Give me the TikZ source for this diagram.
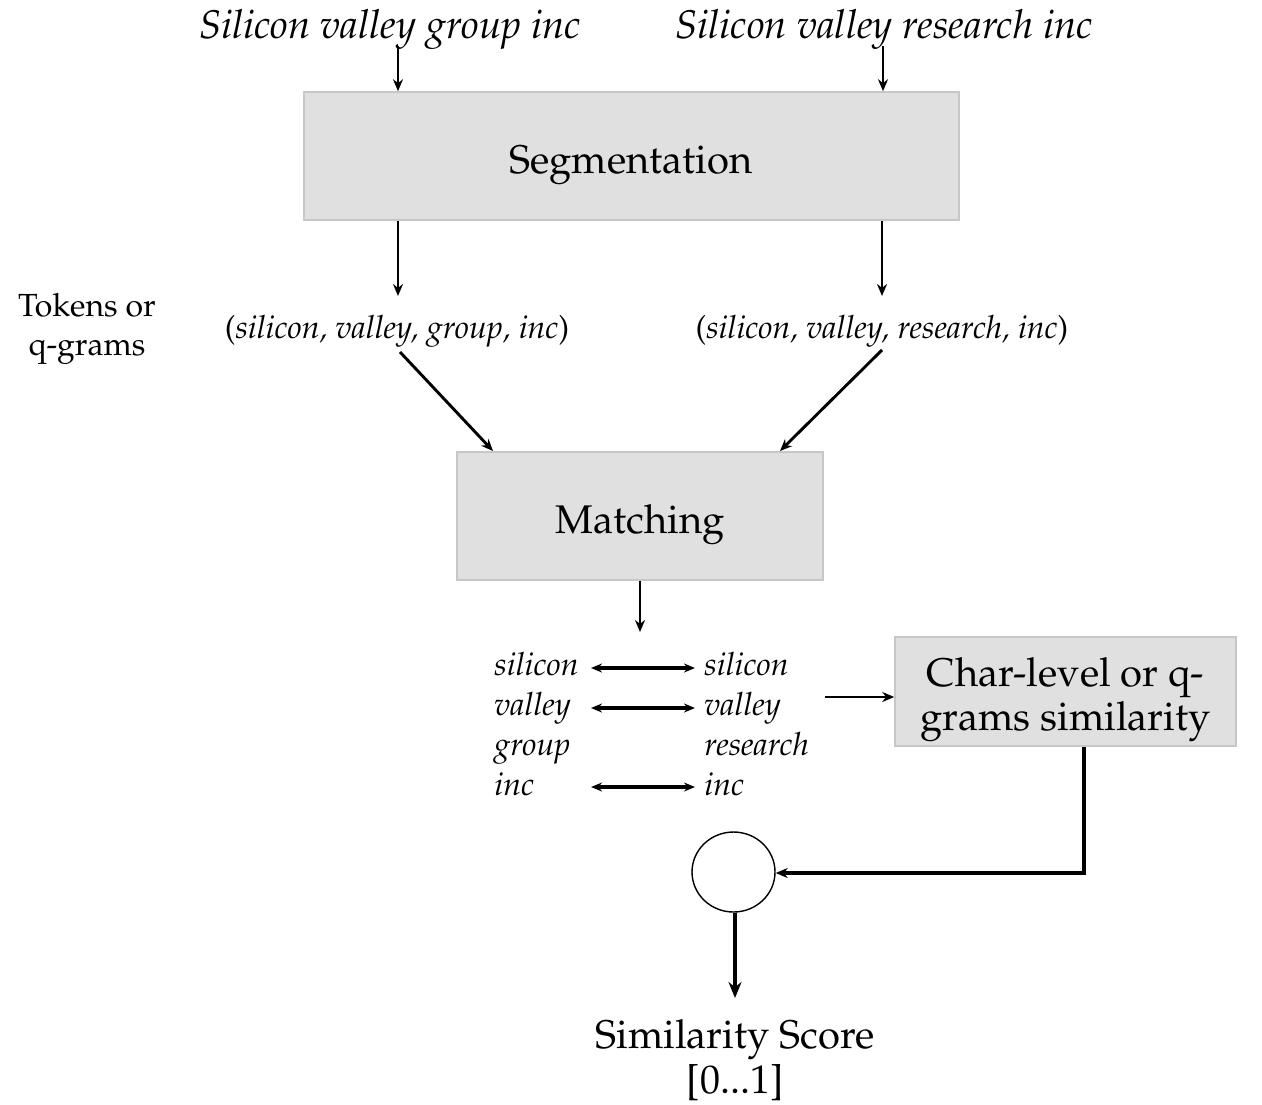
\documentclass[tikz,border=0pt]{standalone}
\usepackage[T1]{fontenc}
\usepackage{mathpazo}
\usetikzlibrary{arrows.meta,shapes.geometric}
\begin{document}
\begin{tikzpicture}[x=0.5pt,y=-0.5pt,
  big/.style={font=\fontsize{20}{21.5}\selectfont, inner sep=0pt, anchor=base},
  bigit/.style={font=\fontsize{20}{21.5}\selectfont\itshape, inner sep=0pt, anchor=base},
  small/.style={font=\fontsize{16}{19.5}\selectfont, inner sep=0pt, anchor=base},
  word/.style={font=\fontsize{16}{19.5}\selectfont\itshape, inner sep=0pt, anchor=base west},
  box/.style={draw=black!22, fill=black!12, line width=0.8pt, inner sep=0pt},
  arr/.style={-{Stealth[length=6pt,width=5pt]}, line width=1.45pt},
  darr/.style={{Stealth[length=5.5pt,width=4.5pt]}-{Stealth[length=5.5pt,width=4.5pt]}, line width=1.6pt},
  thick arr/.style={-{Stealth[length=8pt,width=6.5pt]}, line width=2.1pt}]
\useasboundingbox (0,0) rectangle (1262,1104);
% top inputs
\node[bigit] (in1) at (390,38) {Silicon valley group inc};
\node[bigit] (in2) at (884,38) {Silicon valley research inc};
% segmentation box
\node[box, minimum width=327.5pt, minimum height=64pt] (seg) at (631.5,156) {};
\node[big] (segt) at (631,173) {Segmentation};
\coordinate (a1s) at (398,46);
\coordinate (a2s) at (883,46);
\draw[arr] (a1s) -- (a1s |- seg.north);
\draw[arr] (a2s) -- (a2s |- seg.north);
% tokens
\node[small, align=center] (lab) at (87,355) {Tokens or\\q-grams};
\node[small] (t1) at (397,338) {(\textit{silicon, valley, group, inc})};
\node[small] (t2) at (882,338) {(\textit{silicon, valley, research, inc})};
\coordinate (t1e) at (398,296);
\coordinate (t2e) at (882,296);
\draw[arr] (seg.south -| t1e) -- (t1e);
\draw[arr] (seg.south -| t2e) -- (t2e);
% matching
\node[box, minimum width=183pt, minimum height=64pt] (match) at (640,516) {};
\node[big] (matcht) at (640,533) {Matching};
\coordinate (d1s) at (400,352);
\coordinate (d1e) at (493,451);
\coordinate (d2s) at (882,350);
\coordinate (d2e) at (780,451);
\draw[arr] (d1s) -- (d1e);
\draw[arr] (d2s) -- (d2e);
\coordinate (mo) at (640,632);
\draw[arr] (match.south) -- (mo);
% word list
\node[word] (l1) at (494,675) {silicon};
\node[word] (l2) at (494,715) {valley};
\node[word] (l3) at (494,755) {group};
\node[word] (l4) at (494,795) {inc};
\node[word] (r1) at (704,675) {silicon};
\node[word] (r2) at (704,715) {valley};
\node[word] (r3) at (704,755) {research};
\node[word] (r4) at (704,795) {inc};
\coordinate (dl1) at (591,668);
\coordinate (dr1) at (695,668);
\coordinate (dl2) at (591,708);
\coordinate (dr2) at (695,708);
\coordinate (dl4) at (591,787);
\coordinate (dr4) at (695,787);
\draw[darr] (dl1) -- (dr1);
\draw[darr] (dl2) -- (dr2);
\draw[darr] (dl4) -- (dr4);
% char-level box
\node[box, minimum width=170.5pt, minimum height=54.5pt] (char) at (1065.5,691.5) {};
\node[big, align=center, font=\fontsize{20}{21.8}\selectfont] (chart) at (1065.5,730) {Char-level or q-\\grams similarity};
\coordinate (cs) at (825,697);
\draw[arr] (cs) -- (cs -| char.west);
% circle
\node[draw, ellipse, minimum width=41.5pt, minimum height=40pt, line width=0.7pt, inner sep=0pt] (circ) at (733.5,872) {};
\coordinate (fb) at (1084,873);
\draw[-{Stealth[length=6pt,width=5pt]}, line width=1.6pt] (char.south -| fb) -- (fb) -- (fb -| circ.east);
% output
\node[big, align=center, font=\fontsize{20}{22.5}\selectfont] (out) at (735,1093) {Similarity Score\\{[0...1]}};
\coordinate (oe) at (735,998);
\draw[thick arr] (circ.south -| oe) -- (oe);
\end{tikzpicture}
\end{document}
